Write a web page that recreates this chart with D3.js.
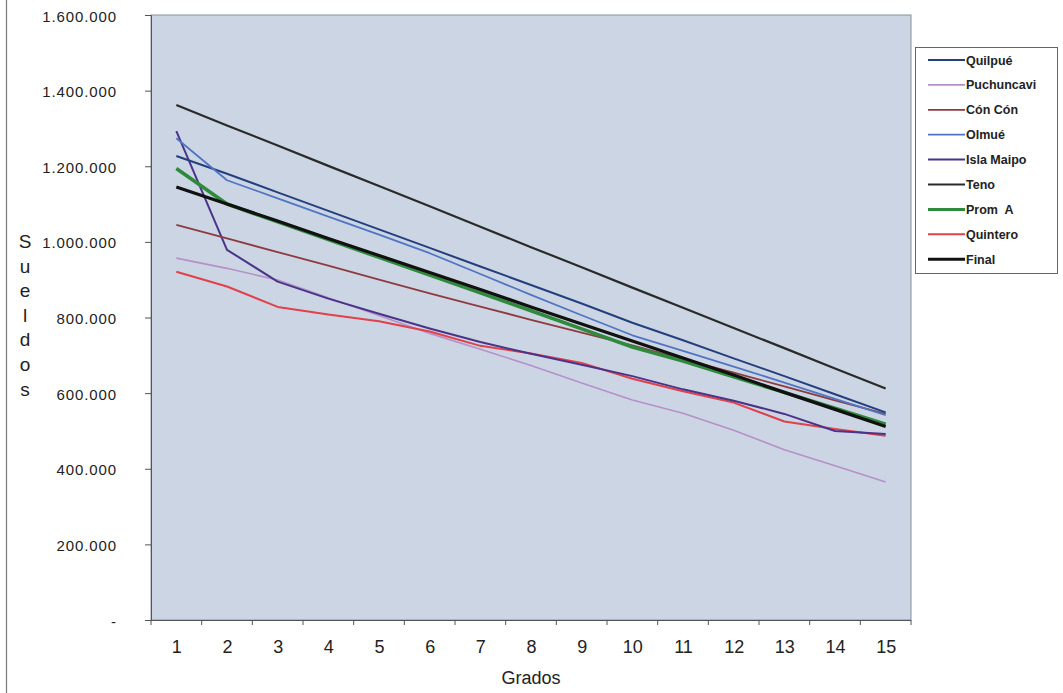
<!DOCTYPE html>
<html><head><meta charset="utf-8">
<script src="https://cdn.jsdelivr.net/npm/d3@7"></script>
<style>body{margin:0;background:#fff}svg{display:block;font-family:"Liberation Sans",Arial,sans-serif}</style>
</head><body>
<svg id="c" width="1063" height="693"></svg>
<script>
const grados = [1,2,3,4,5,6,7,8,9,10,11,12,13,14,15];
const yTicks = [0,200000,400000,600000,800000,1000000,1200000,1400000,1600000];
const yTickLabels = ["-","200.000","400.000","600.000","800.000","1.000.000","1.200.000","1.400.000","1.600.000"];
const seriesNames = ["Quilpué","Puchuncavi","Cón Cón","Olmué","Isla Maipo","Teno","Prom  A","Quintero","Final"];
const quilpue    = [1227000,1180000,1131000,1082000,1033000,984000,935000,886000,837000,786000,740000,692000,645000,597000,549000];
const puchuncavi = [957000,930000,899000,852000,805000,758000,716000,673000,627000,582000,547000,502000,450000,408000,365000];
const concon     = [1045000,1009000,973000,937000,900000,864000,829000,794000,760000,726000,690000,654000,618000,581000,545000];
const olmue      = [1274000,1163000,1115000,1067000,1019000,970000,915000,860000,806000,753000,712000,670000,628000,585000,542000];
const islaMaipo  = [1293000,979000,895000,850000,810000,771000,735000,704000,675000,645000,610000,580000,545000,500000,492000];
const teno       = [1362000,1308000,1255000,1201000,1148000,1094000,1040000,986000,933000,879000,826000,772000,719000,665000,612000];
const promA      = [1194000,1100000,1053000,1006000,959000,912000,865000,818000,770000,722000,685000,643000,602000,560000,518000];
const quintero   = [921000,882000,828000,808000,790000,763000,725000,705000,680000,638000,605000,575000,525000,505000,487000];
const final      = [1145000,1100000,1055000,1009000,964000,919000,874000,828000,783000,738000,693000,648000,602000,557000,512000];

const seriesValues = [quilpue,puchuncavi,concon,olmue,islaMaipo,teno,promA,quintero,final];
const colors = ["#243f7e","#b890c8","#8e3b40","#5075c4","#4a3489","#2a2a2a","#2f8a3c","#e2404a","#111111"];
const widths = [2,1.6,1.8,1.8,2,2.2,3.6,2,3.2];

const svg = d3.select("#c");
const L=151,R=911,T=15,B=620;

// outer frame left edge
svg.append("line").attr("x1",6.5).attr("x2",6.5).attr("y1",0).attr("y2",693).attr("stroke","#777").attr("stroke-width",1.2);

svg.append("rect").attr("x",L).attr("y",T).attr("width",R-L).attr("height",B-T)
  .attr("fill","#cbd5e3").attr("stroke","#8a8f98").attr("stroke-width",1);

const x = d3.scalePoint().domain(grados).range([L,R]).padding(0.5);
const xb = d3.scaleBand().domain(grados).range([L,R]);
const y = d3.scaleLinear().domain([0,1600000]).range([B,T]);

// y axis
const yAxis = d3.axisLeft(y).tickValues(yTicks).tickSize(6).tickFormat((d,i)=>yTickLabels[i]);
const gy = svg.append("g").attr("transform",`translate(${L},0)`).call(yAxis);
gy.select(".domain").attr("stroke","#555");
gy.selectAll(".tick line").attr("stroke","#555");
gy.selectAll("text").attr("x",-34).attr("dy","0.4em").attr("font-size",15).attr("letter-spacing","0.9px")
  .attr("fill","#222").attr("font-family","Liberation Sans, Arial");

// x axis: ticks at category boundaries
const xAxis = d3.axisBottom(x).tickSize(0).tickPadding(20);
const gx = svg.append("g").attr("transform",`translate(0,${B})`).call(xAxis);
gx.select(".domain").remove();
gx.selectAll("text").attr("font-size",18).attr("fill","#222").attr("font-family","Liberation Sans, Arial");
svg.append("line").attr("x1",L-6).attr("x2",R).attr("y1",B+0.5).attr("y2",B+0.5).attr("stroke","#555");
svg.append("g").selectAll("line").data(grados.concat([null])).join("line")
  .attr("x1",(d,i)=>L+i*xb.step()).attr("x2",(d,i)=>L+i*xb.step())
  .attr("y1",B).attr("y2",B+5).attr("stroke","#555");

// axis titles
svg.append("text").attr("x",(L+R)/2).attr("y",684).attr("text-anchor","middle")
  .attr("font-size",18).attr("fill","#222").text("Grados");
const yl = "Sueldos".split("");
svg.append("g").selectAll("text").data(yl).join("text")
  .attr("x",25).attr("y",(d,i)=>248+i*24.6).attr("text-anchor","middle")
  .attr("font-size",19).attr("fill","#222").text(d=>d);

// lines
const line = d3.line().x((d,i)=>x(grados[i])).y(d=>y(d));
const order = [1,7,4,2,0,3,5,6,8];
svg.append("g").selectAll("path").data(order).join("path")
  .attr("d",k=>line(seriesValues[k])).attr("fill","none")
  .attr("stroke",k=>colors[k]).attr("stroke-width",k=>widths[k])
  .attr("stroke-linejoin","round");

// legend
const lg = svg.append("g");
lg.append("rect").attr("x",915.5).attr("y",47.5).attr("width",142).attr("height",226)
  .attr("fill","#fff").attr("stroke","#666").attr("stroke-width",1);
const items = lg.selectAll("g.it").data(seriesNames).join("g").attr("class","it")
  .attr("transform",(d,i)=>`translate(0,${60+i*24.9})`);
items.append("line").attr("x1",928).attr("x2",965).attr("y1",0).attr("y2",0)
  .attr("stroke",(d,i)=>colors[i]).attr("stroke-width",(d,i)=>Math.min(widths[i],3));
items.append("text").attr("x",966).attr("y",4.5).attr("font-size",12.5).attr("font-weight","bold")
  .attr("fill","#222").style("white-space","pre").text(d=>d);
</script>
</body></html>
